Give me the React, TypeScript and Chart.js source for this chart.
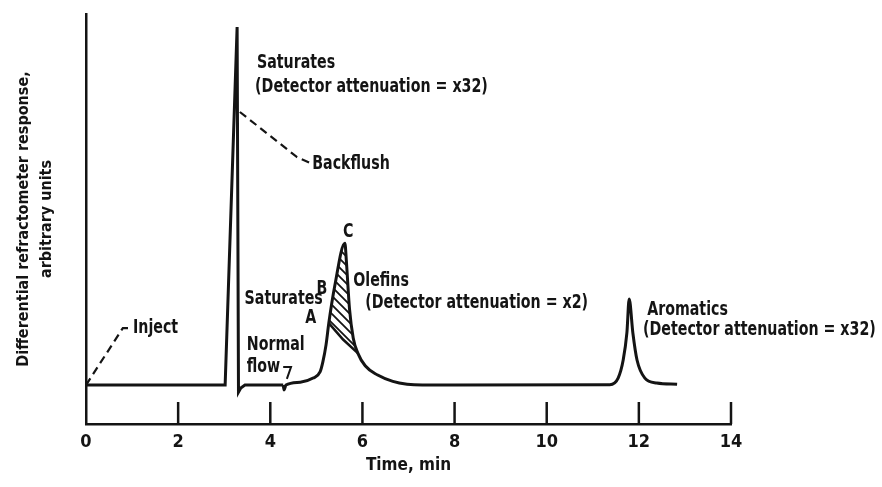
import React, { useEffect, useRef } from "react";
import { Chart, registerables } from "chart.js";

Chart.register(...registerables);

// ---- data (time in min, response in arbitrary units 0..100) ----
const X_TICKS = [0, 2, 4, 6, 8, 10, 12, 14];

// baseline + backflushed saturates spike
const SPIKE_T = [0, 3.02, 3.28, 3.31, 3.36, 3.45, 4.28];
const SPIKE_V = [9.5, 9.5, 96.8, 7.8, 8.8, 9.5, 9.5];

// normal flow: saturates / olefins peak, then aromatics peak
const PEAKS_T = [4.28, 4.3, 4.34, 4.65, 4.93, 5.08, 5.14, 5.21, 5.27, 5.4, 5.62, 5.65, 5.72, 5.8, 5.9, 6.06, 6.32, 6.66, 6.97, 7.3, 11.37, 11.55, 11.66, 11.74, 11.79, 11.87, 11.96, 12.13, 12.39, 12.83];
const PEAKS_V = [9.5, 8.3, 9.5, 10.2, 11.2, 12.7, 15.1, 19.3, 24.6, 33.7, 44.1, 40, 28, 21, 17.3, 14.2, 12.0, 10.4, 9.7, 9.5, 9.6, 11.2, 15.6, 22.2, 30.5, 22.2, 15.6, 11.2, 10.0, 9.7];

// hatched olefins area (between outer peak and inner line from A)
const HATCH_OUTER_T = [5.27, 5.4, 5.62, 5.65, 5.72, 5.8, 5.9];
const HATCH_OUTER_V = [24.6, 33.7, 44.1, 40, 28, 21, 17.3];
const HATCH_INNER_T = [5.27, 5.58, 5.9];
const HATCH_INNER_V = [24.6, 20.6, 17.3];

// leader lines
const INJECT_T = [0, 0.8, 0.96];
const INJECT_V = [9.5, 23.4, 23.4];
const BACKFLUSH_T = [3.34, 4.58, 4.86];
const BACKFLUSH_V = [76.1, 65.1, 63.7];
const FLOW_T = [4.28, 4.45, 4.36];
const FLOW_V = [13.9, 13.9, 11.0];

// annotation labels
const LABEL_TEXT = [
  "Saturates",
  "(Detector attenuation = x32)",
  "Backflush",
  "C",
  "B",
  "Olefins",
  "Saturates",
  "(Detector attenuation = x2)",
  "A",
  "Normal",
  "flow",
  "Inject",
  "Aromatics",
  "(Detector attenuation = x32)",
];
const LABEL_T = [3.71, 3.67, 4.91, 5.69, 5.12, 5.8, 5.14, 6.06, 4.88, 3.49, 3.49, 1.02, 12.18, 12.09];
const LABEL_V = [88.0, 82.2, 63.4, 46.8, 32.9, 34.9, 30.5, 29.5, 25.9, 19.3, 13.9, 23.4, 27.8, 22.9];
const LABEL_ALIGN: CanvasTextAlign[] = ["left", "left", "left", "center", "center", "left", "right", "left", "center", "left", "left", "left", "left", "left"];

const INK = "#141414";
const FONT = "'Liberation Sans Narrow', 'DejaVu Sans Condensed', 'Roboto Condensed', 'Liberation Sans', sans-serif";

const pts = (t: number[], v: number[]) => t.map((x, i) => ({ x, y: v[i] }));

function makeHatch(): CanvasPattern | string {
  const c = document.createElement("canvas");
  const s = 9;
  c.width = s;
  c.height = s;
  const g = c.getContext("2d");
  if (!g) return "rgba(0,0,0,0.3)";
  g.strokeStyle = INK;
  g.lineWidth = 1.8;
  g.beginPath();
  g.moveTo(-1, -1);
  g.lineTo(s + 1, s + 1);
  g.moveTo(s - 1, -1);
  g.lineTo(s + 1, 1);
  g.moveTo(-1, s - 1);
  g.lineTo(1, s + 1);
  g.stroke();
  return g.createPattern(c, "repeat") || "rgba(0,0,0,0.3)";
}

const inwardTicks = {
  id: "inwardTicks",
  afterDraw(chart: any) {
    const { ctx, chartArea } = chart;
    const x = chart.scales.x;
    ctx.save();
    ctx.strokeStyle = INK;
    ctx.lineWidth = 2.5;
    X_TICKS.forEach((v) => {
      if (v === 0) return;
      const px = x.getPixelForValue(v);
      ctx.beginPath();
      ctx.moveTo(px, chartArea.bottom);
      ctx.lineTo(px, chartArea.bottom - 22);
      ctx.stroke();
    });
    ctx.restore();
  },
};

const labelsPlugin = {
  id: "labelsPlugin",
  afterDatasetsDraw(chart: any) {
    const { ctx } = chart;
    const x = chart.scales.x;
    const y = chart.scales.y;
    ctx.save();
    ctx.fillStyle = INK;
    ctx.font = `bold 20px ${FONT}`;
    ctx.textBaseline = "middle";
    LABEL_TEXT.forEach((txt, i) => {
      ctx.save();
      ctx.translate(x.getPixelForValue(LABEL_T[i]), y.getPixelForValue(LABEL_V[i]));
      ctx.scale(0.79, 1);
      ctx.textAlign = LABEL_ALIGN[i];
      ctx.fillText(txt, 0, 0);
      ctx.restore();
    });
    ctx.restore();
  },
};

export default function App() {
  const ref = useRef<HTMLCanvasElement | null>(null);

  useEffect(() => {
    if (!ref.current) return;
    const hatch = makeHatch();
    const line = (data: any, extra: any = {}) => ({
      data,
      borderColor: INK,
      borderWidth: 3,
      pointRadius: 0,
      tension: 0,
      fill: false,
      ...extra,
    });
    const chart = new Chart(ref.current, {
      type: "line",
      data: {
        datasets: [
          line(pts(SPIKE_T, SPIKE_V)),
          line(pts(PEAKS_T, PEAKS_V), { cubicInterpolationMode: "monotone" }),
          line(pts(HATCH_INNER_T, HATCH_INNER_V), { borderWidth: 2.5 }),
          line(pts(HATCH_OUTER_T, HATCH_OUTER_V), {
            borderWidth: 0,
            cubicInterpolationMode: "monotone",
            fill: { target: 2 },
            backgroundColor: hatch,
          }),
          line(pts(INJECT_T, INJECT_V), { borderWidth: 2.2, borderDash: [8, 5] }),
          line(pts(BACKFLUSH_T, BACKFLUSH_V), { borderWidth: 2.2, borderDash: [8, 5] }),
          line(pts(FLOW_T, FLOW_V), { borderWidth: 2 }),
        ],
      },
      options: {
        animation: false,
        responsive: true,
        maintainAspectRatio: false,
        events: [],
        layout: { padding: { left: 0, top: 14, right: 151, bottom: 0 } },
        plugins: {
          legend: { display: false },
          tooltip: { enabled: false },
        },
        scales: {
          x: {
            type: "linear",
            min: 0,
            max: 14,
            grid: { display: false, drawTicks: false },
            border: { display: true, color: INK, width: 2.5 },
            ticks: {
              stepSize: 2,
              color: INK,
              padding: 8,
              font: { family: FONT, size: 18, weight: "bold" },
            },
            title: {
              display: true,
              text: "Time, min",
              color: INK,
              font: { family: FONT, size: 17, weight: "bold", lineHeight: 1.2 },
              padding: { top: 0, bottom: 11 },
            },
            afterFit: (s: any) => {
              s.height = 63;
            },
          },
          y: {
            min: 0,
            max: 100,
            grid: { display: false, drawTicks: false },
            border: { display: true, color: INK, width: 2.5 },
            ticks: { display: false },
            title: {
              display: true,
              text: ["Differential refractometer response,", "arbitrary units"],
              color: INK,
              font: { family: FONT, size: 16, weight: "bold", lineHeight: 1.45 },
              padding: { top: 12, bottom: 0 },
            },
            afterFit: (s: any) => {
              s.width = 86;
            },
          },
        },
      },
      plugins: [inwardTicks, labelsPlugin],
    } as any);
    return () => chart.destroy();
  }, []);

  return (
    <div style={{ position: "fixed", left: 0, top: 0, width: 882, height: 487, background: "#fff" }}>
      <canvas ref={ref} />
    </div>
  );
}
